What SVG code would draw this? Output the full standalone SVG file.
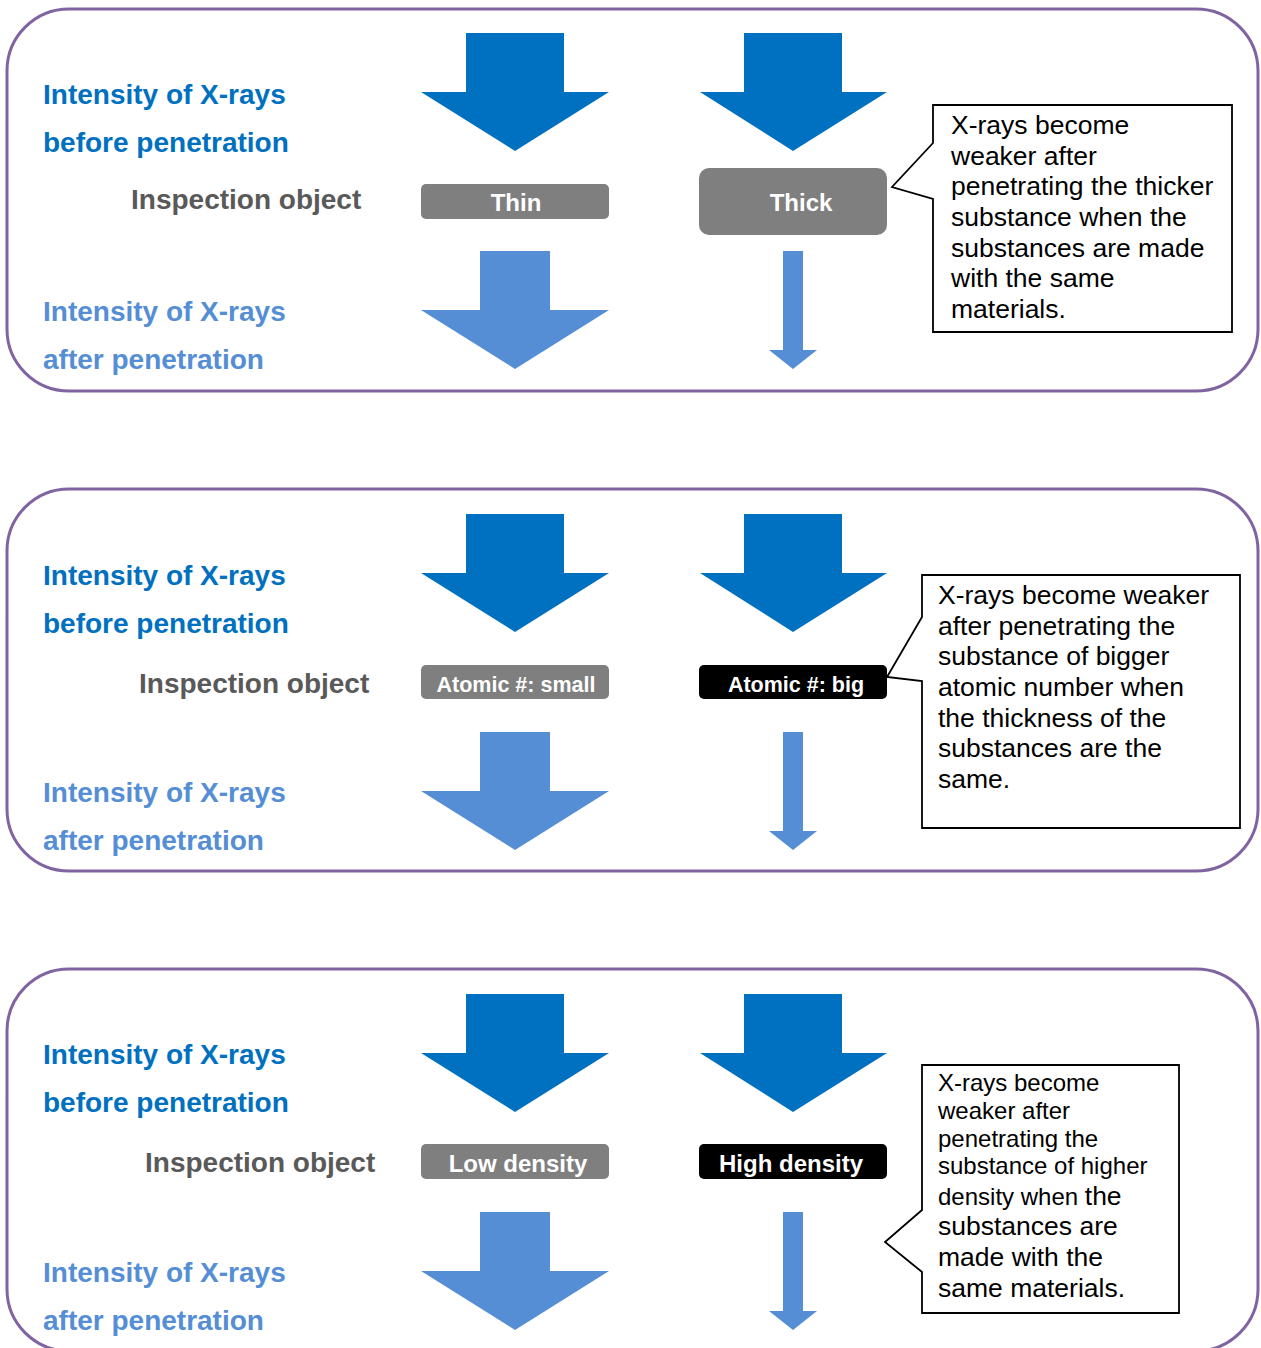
<svg xmlns="http://www.w3.org/2000/svg" width="1261" height="1348" viewBox="0 0 1261 1348">
<defs>
<style>
.panel{fill:#fff;stroke:#8064A2;stroke-width:3}
.dark{fill:#0070C0}
.light{fill:#558ED5}
.lbl{font-family:"Liberation Sans",Arial,sans-serif;font-weight:bold;font-size:28px}
.before{fill:#0070C0}
.after{fill:#558ED5}
.insp{fill:#595959}
.box{font-family:"Liberation Sans",Arial,sans-serif;font-weight:bold;fill:#fff;text-anchor:middle}
.call{fill:#fff;stroke:#000;stroke-width:1.8}
.ct{font-family:"Liberation Sans",Arial,sans-serif;font-size:26.5px;fill:#000}
</style>
<polygon id="bigArrow" points="466,33 564,33 564,92 609,92 515,151 421,92 466,92"/>
<polygon id="bigArrowR" points="744,33 842,33 842,92 887,92 793,151 700,92 744,92"/>
<polygon id="midArrow" points="480,251 550,251 550,310 609,310 515,369 421,310 480,310"/>
<polygon id="thinArrow" points="783,251 803,251 803,350 817,350 793,369 769,350 783,350"/>
</defs>
<rect width="1261" height="1348" fill="#fff"/>

<!-- Panel 1: thickness -->
<g id="panel1">
<rect class="panel" x="7" y="9" width="1251" height="382" rx="62" ry="62"/>
<g id="p1-labels">
<text class="lbl before" x="43" y="104">Intensity of X-rays</text>
<text class="lbl before" x="43" y="152">before penetration</text>
<text class="lbl insp" x="131" y="209">Inspection object</text>
<text class="lbl after" x="43" y="321">Intensity of X-rays</text>
<text class="lbl after" x="43" y="369">after penetration</text>
</g>
<g id="p1-arrows">
<use href="#bigArrow" class="dark"/>
<use href="#bigArrowR" class="dark"/>
<use href="#midArrow" class="light"/>
<use href="#thinArrow" class="light"/>
</g>
<g id="p1-thin">
<rect x="421" y="184" width="188" height="35" rx="5" fill="#7F7F7F"/>
<text class="box" x="516" y="211" font-size="24">Thin</text>
</g>
<g id="p1-thick">
<rect x="699" y="168" width="188" height="67" rx="10" fill="#7F7F7F"/>
<text class="box" x="801" y="211" font-size="24">Thick</text>
</g>
<g id="p1-callout">
<path class="call" d="M933,105 H1232 V332 H933 V199 L892,187 L933,143 Z"/>
<text class="ct" x="951"><tspan x="951" y="134">X-rays become</tspan><tspan x="951" y="165">weaker after</tspan><tspan x="951" y="195">penetrating the thicker</tspan><tspan x="951" y="226">substance when the</tspan><tspan x="951" y="257">substances are made</tspan><tspan x="951" y="287">with the same</tspan><tspan x="951" y="318">materials.</tspan></text>
</g>
</g>

<!-- Panel 2: atomic number -->
<g id="panel2">
<rect class="panel" x="7" y="489" width="1251" height="382" rx="62" ry="62"/>
<g id="p2-labels">
<text class="lbl before" x="43" y="585">Intensity of X-rays</text>
<text class="lbl before" x="43" y="633">before penetration</text>
<text class="lbl insp" x="139" y="693">Inspection object</text>
<text class="lbl after" x="43" y="802">Intensity of X-rays</text>
<text class="lbl after" x="43" y="850">after penetration</text>
</g>
<g id="p2-arrows" transform="translate(0,481)">
<use href="#bigArrow" class="dark"/>
<use href="#bigArrowR" class="dark"/>
<use href="#midArrow" class="light"/>
<use href="#thinArrow" class="light"/>
</g>
<g id="p2-small">
<rect x="421" y="665" width="188" height="34" rx="5" fill="#7F7F7F"/>
<text class="box" x="516" y="692" font-size="21.5">Atomic #: small</text>
</g>
<g id="p2-big">
<rect x="699" y="665" width="188" height="34" rx="5" fill="#000"/>
<text class="box" x="796" y="692" font-size="21.5">Atomic #: big</text>
</g>
<g id="p2-callout">
<path class="call" d="M922,575 H1240 V828 H922 V681 L887,677 L922,617 Z"/>
<text class="ct"><tspan x="938" y="604">X-rays become weaker</tspan><tspan x="938" y="635">after penetrating the</tspan><tspan x="938" y="665">substance of bigger</tspan><tspan x="938" y="696">atomic number when</tspan><tspan x="938" y="727">the thickness of the</tspan><tspan x="938" y="757">substances are the</tspan><tspan x="938" y="788">same.</tspan></text>
</g>
</g>

<!-- Panel 3: density -->
<g id="panel3">
<rect class="panel" x="7" y="969" width="1251" height="382" rx="62" ry="62"/>
<g id="p3-labels">
<text class="lbl before" x="43" y="1064">Intensity of X-rays</text>
<text class="lbl before" x="43" y="1112">before penetration</text>
<text class="lbl insp" x="145" y="1172">Inspection object</text>
<text class="lbl after" x="43" y="1282">Intensity of X-rays</text>
<text class="lbl after" x="43" y="1330">after penetration</text>
</g>
<g id="p3-arrows" transform="translate(0,961)">
<use href="#bigArrow" class="dark"/>
<use href="#bigArrowR" class="dark"/>
<use href="#midArrow" class="light"/>
<use href="#thinArrow" class="light"/>
</g>
<g id="p3-low">
<rect x="421" y="1144" width="188" height="35" rx="5" fill="#7F7F7F"/>
<text class="box" x="518" y="1172" font-size="24">Low density</text>
</g>
<g id="p3-high">
<rect x="699" y="1144" width="188" height="35" rx="5" fill="#000"/>
<text class="box" x="791" y="1172" font-size="24">High density</text>
</g>
<g id="p3-callout">
<path class="call" d="M922,1065 H1179 V1313 H922 V1272 L885,1242 L922,1210 Z"/>
<text class="ct"><tspan x="938" y="1091" font-size="24">X-rays become</tspan><tspan x="938" y="1119" font-size="24">weaker after</tspan><tspan x="938" y="1147" font-size="24">penetrating the</tspan><tspan x="938" y="1174" font-size="24">substance of higher</tspan><tspan x="938" y="1205" font-size="24">density when </tspan><tspan>the</tspan><tspan x="938" y="1235">substances are</tspan><tspan x="938" y="1266">made with the</tspan><tspan x="938" y="1297">same materials.</tspan></text>
</g>
</g>
</svg>
